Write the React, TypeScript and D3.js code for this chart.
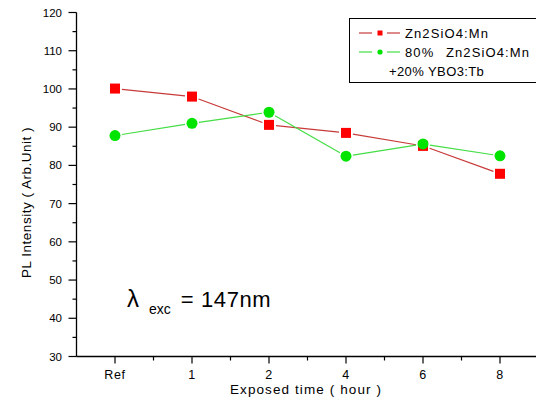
import React from "react";
import * as d3 from "d3";

const categories = ["Ref", "1", "2", "4", "6", "8"];
const seriesNames = ["Zn2SiO4:Mn", "80% Zn2SiO4:Mn"];
const legendExtra = "+20% YBO3:Tb";
const redValues = [100.1, 98.0, 90.6, 88.5, 85.1, 77.8];
const greenValues = [87.8, 91.0, 93.9, 82.4, 85.6, 82.5];
const yTicks = [30, 40, 50, 60, 70, 80, 90, 100, 110, 120];
const yMinorTicks = [35, 45, 55, 65, 75, 85, 95, 105, 115];

const W = 536;
const H = 403;
const left = 76.5;
const right = 538.5;
const top = 12.5;
const bottom = 356.5;
const FONT = "Arial, 'Liberation Sans', sans-serif";

function segments(points: [number, number][], gap: number) {
  const segs: [number, number, number, number][] = [];
  for (let i = 0; i < points.length - 1; i++) {
    const [x1, y1] = points[i];
    const [x2, y2] = points[i + 1];
    const dx = x2 - x1, dy = y2 - y1;
    const len = Math.sqrt(dx * dx + dy * dy);
    const ux = dx / len, uy = dy / len;
    segs.push([x1 + ux * gap, y1 + uy * gap, x2 - ux * gap, y2 - uy * gap]);
  }
  return segs;
}

export default function App() {
  const x = d3.scalePoint<string>().domain(categories).range([left, right]).padding(0.5);
  const y = d3.scaleLinear().domain([30, 120]).range([bottom, top]);
  const step = x.step();

  const redPts: [number, number][] = categories.map((c, i) => [x(c)!, y(redValues[i])]);
  const greenPts: [number, number][] = categories.map((c, i) => [x(c)!, y(greenValues[i])]);
  const redColor = "#c83a3a";
  const greenColor = "#44dd44";

  const minorX = categories.map((c) => x(c)! + step / 2);
  const secondParts = seriesNames[1].split(" ");

  return (
    <svg width={W} height={H} style={{ position: "absolute", left: 0, top: 0, background: "#fff" }}>
      <rect x={0} y={0} width={W} height={H} fill="#fff" />
      {/* axes */}
      <line x1={left} y1={top} x2={left} y2={bottom} stroke="#000" strokeWidth={1.3} />
      <line x1={left} y1={bottom} x2={W} y2={bottom} stroke="#000" strokeWidth={1.3} />
      {yTicks.map((t) => (
        <g key={"yt" + t}>
          <line x1={left - 8} x2={left} y1={y(t)} y2={y(t)} stroke="#000" strokeWidth={1.2} />
          <text x={62} y={y(t) + 4} textAnchor="end" fontSize={11.5} fontFamily={FONT} fill="#000">
            {t}
          </text>
        </g>
      ))}
      {yMinorTicks.map((t) => (
        <line key={"ym" + t} x1={left - 4} x2={left} y1={y(t)} y2={y(t)} stroke="#000" strokeWidth={1.2} />
      ))}
      {categories.map((c) => (
        <g key={"xt" + c}>
          <line x1={x(c)!} x2={x(c)!} y1={bottom} y2={bottom + 7} stroke="#000" strokeWidth={1.2} />
          <text x={x(c)!} y={379} textAnchor="middle" fontSize={12.5} fontFamily={FONT} fill="#000" letterSpacing={0.6}>
            {c}
          </text>
        </g>
      ))}
      {minorX.map((mx, i) => (
        <line key={"xm" + i} x1={mx} x2={mx} y1={bottom} y2={bottom + 4} stroke="#000" strokeWidth={1.2} />
      ))}
      {/* axis titles */}
      <text x={306} y={394} textAnchor="middle" fontSize={13.5} fontFamily={FONT} fill="#000" letterSpacing={1.1}>
        Exposed time ( hour )
      </text>
      <text
        transform={`translate(31,${(top + bottom) / 2 + 18}) rotate(-90)`}
        textAnchor="middle"
        fontSize={13.5}
        fontFamily={FONT}
        fill="#000"
        letterSpacing={0.5}
      >
        PL Intensity ( Arb.Unit )
      </text>
      {/* lines */}
      {segments(redPts, 7).map((s, i) => (
        <line key={"rs" + i} x1={s[0]} y1={s[1]} x2={s[2]} y2={s[3]} stroke={redColor} strokeWidth={1.2} />
      ))}
      {segments(greenPts, 7).map((s, i) => (
        <line key={"gs" + i} x1={s[0]} y1={s[1]} x2={s[2]} y2={s[3]} stroke={greenColor} strokeWidth={1.2} />
      ))}
      {redPts.map((p, i) => (
        <rect key={"rm" + i} x={p[0] - 5} y={p[1] - 5} width={10} height={10} fill="#ff0000" />
      ))}
      {greenPts.map((p, i) => (
        <circle key={"gm" + i} cx={p[0]} cy={p[1]} r={5.5} fill="#00e400" />
      ))}
      {/* lambda annotation */}
      <text x={127} y={307} fontFamily={FONT} fill="#000">
        <tspan fontSize={24}>λ</tspan>
        <tspan fontSize={14} dx={10} dy={7}>exc</tspan>
        <tspan fontSize={22} dx={10} dy={-7} letterSpacing={0.6}>= 147nm</tspan>
      </text>
      {/* legend */}
      <rect x={349.5} y={18.5} width={200} height={64} fill="#fff" stroke="#000" strokeWidth={1} />
      <line x1={359} x2={372} y1={33} y2={33} stroke={redColor} strokeWidth={1.2} />
      <line x1={387} x2={400} y1={33} y2={33} stroke={redColor} strokeWidth={1.2} />
      <rect x={377.5} y={30.5} width={5} height={5} fill="#ff0000" />
      <line x1={359} x2={372} y1={52} y2={52} stroke={greenColor} strokeWidth={1.2} />
      <line x1={387} x2={400} y1={52} y2={52} stroke={greenColor} strokeWidth={1.2} />
      <circle cx={380} cy={52} r={2.6} fill="#00e400" />
      <text x={405} y={38} fontSize={13} fontFamily={FONT} fill="#000" letterSpacing={1.1}>
        {seriesNames[0]}
      </text>
      <text y={57} fontSize={13} fontFamily={FONT} fill="#000" letterSpacing={1.1}>
        <tspan x={405}>{secondParts[0]}</tspan>
        <tspan x={446}>{secondParts[1]}</tspan>
      </text>
      <text x={389} y={76} fontSize={13} fontFamily={FONT} fill="#000" letterSpacing={0.4}>
        {legendExtra}
      </text>
    </svg>
  );
}
